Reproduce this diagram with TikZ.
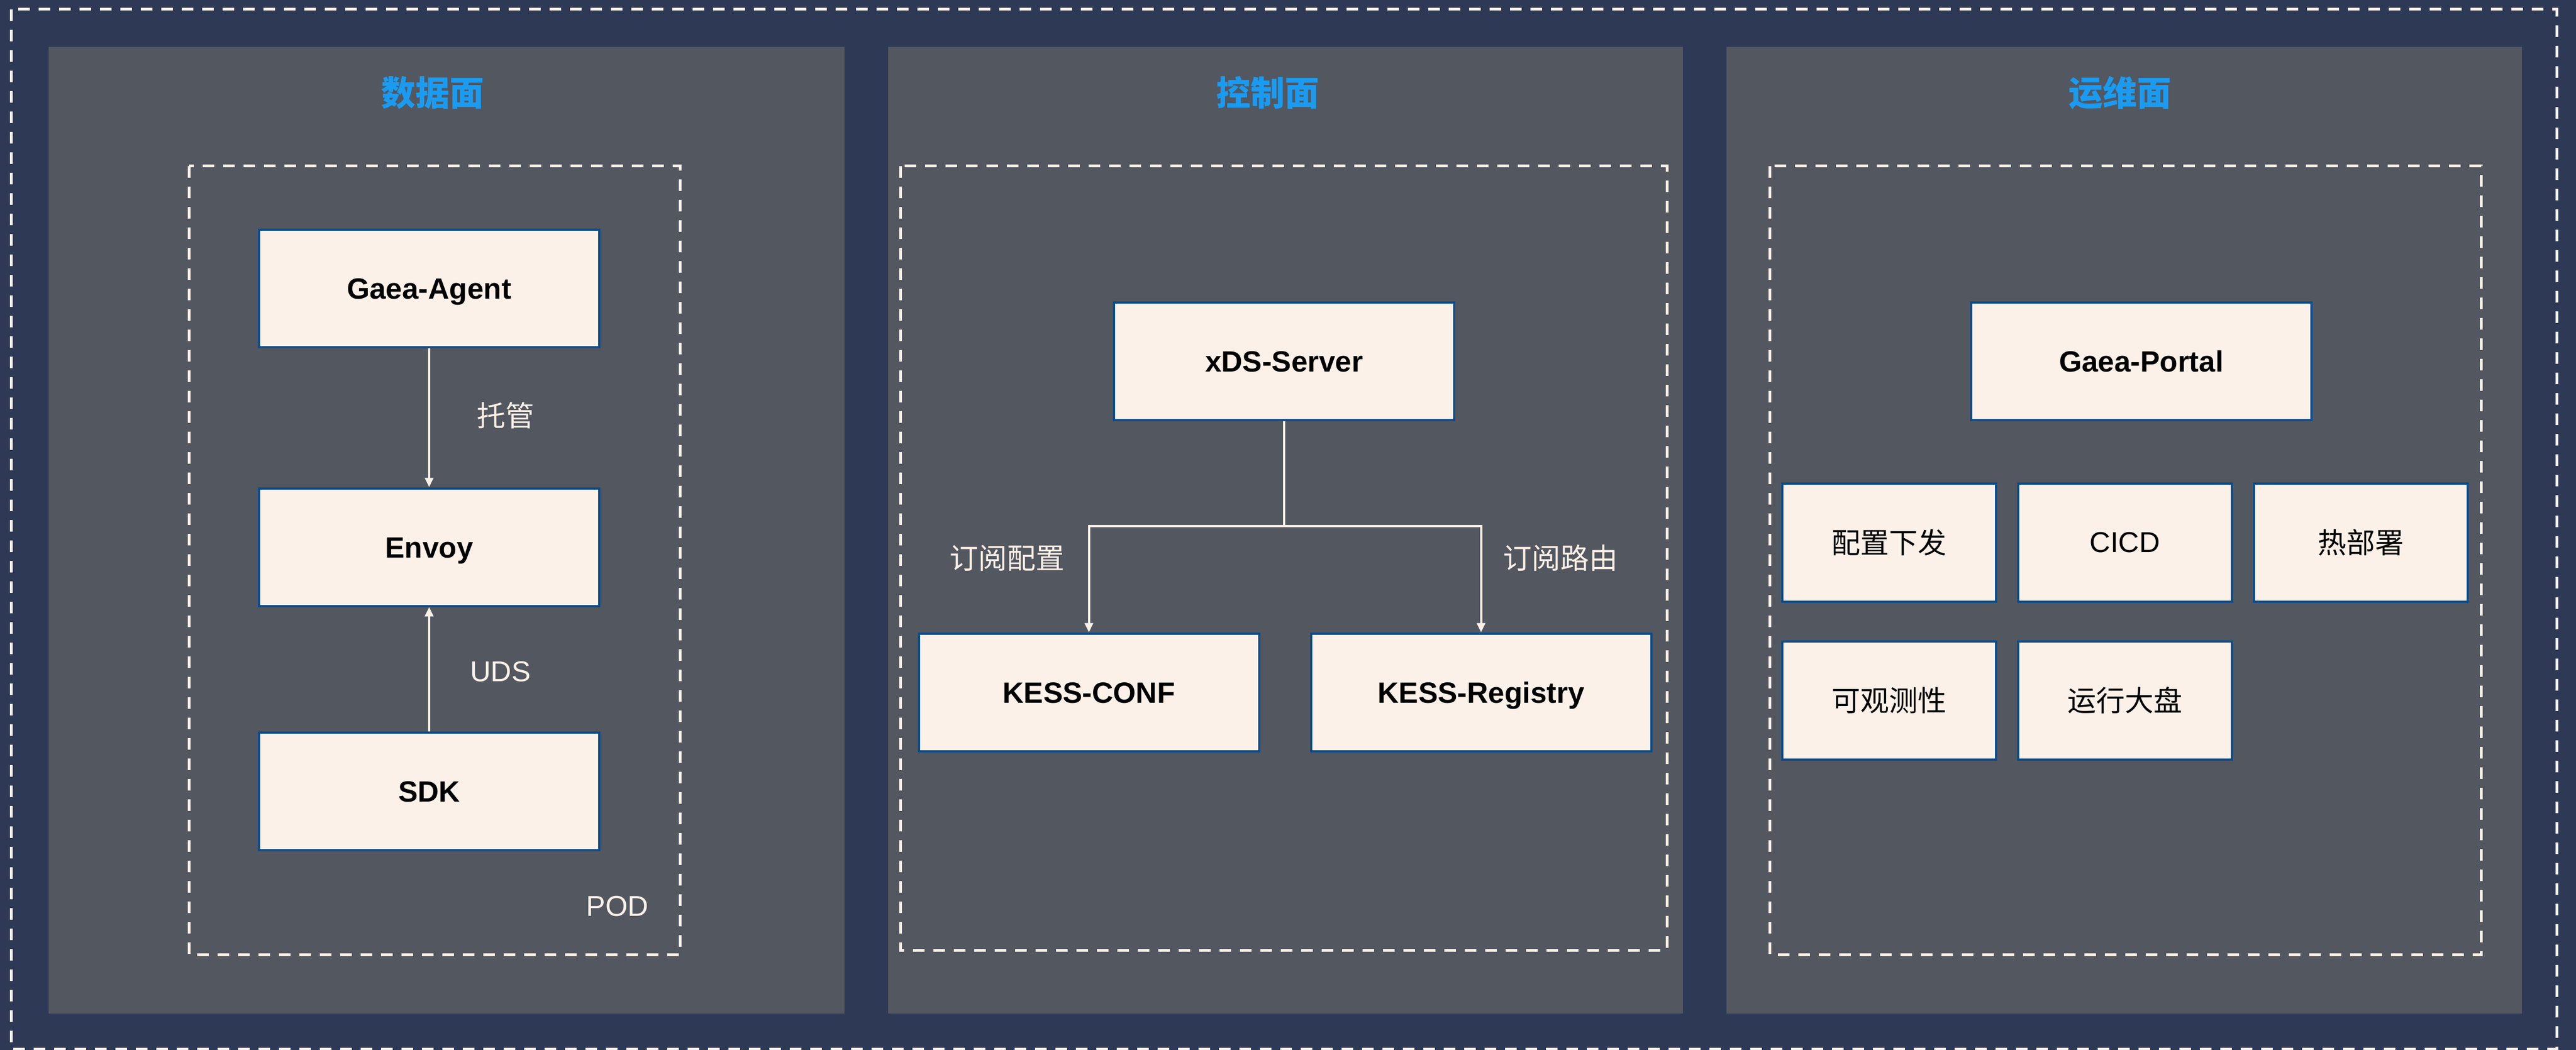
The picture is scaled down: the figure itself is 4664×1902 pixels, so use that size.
\documentclass[tikz,border=0pt]{standalone}
\usepackage{fontspec}
\usepackage{tikz}
\usetikzlibrary{positioning,arrows.meta}
\setmainfont{Liberation Sans}
\newfontfamily\cjk{Noto Sans CJK SC}
\definecolor{bgnavy}{HTML}{2E3A55}
\definecolor{panelgray}{HTML}{53575F}
\definecolor{boxfill}{HTML}{FCF1E8}
\definecolor{boxline}{HTML}{0B4C8C}
\definecolor{titleblue}{HTML}{1A9BF2}
\definecolor{cream}{HTML}{FCF1E8}

\begin{document}
\begin{tikzpicture}[x=1pt, y=-1pt, node distance=36pt]
    % Define styles
    \tikzstyle{panel} = [fill=panelgray, draw=none]
    \tikzstyle{frame} = [draw=cream, line width=5pt, dash pattern=on 21pt off 16pt]
    \tikzstyle{title} = [text=titleblue, font=\cjk\bfseries\fontsize{62}{70}\selectfont]
    \tikzstyle{bigbox} = [rectangle, minimum width=616pt, minimum height=213pt, text height=38pt, text depth=0pt, text centered, draw=boxline, line width=4pt, fill=boxfill, font=\bfseries\fontsize{53}{60}\selectfont]
    \tikzstyle{smallbox} = [rectangle, minimum width=387pt, minimum height=214pt, text centered, draw=boxline, line width=4pt, fill=boxfill, font=\fontsize{52}{60}\selectfont]
    \tikzstyle{note} = [text=cream, font=\fontsize{52}{60}\selectfont]
    \tikzstyle{arrow} = [draw=cream, line width=4pt, -{Triangle[length=17pt, width=15pt]}]

    % Background and panels
    \fill[bgnavy] (0,0) rectangle (4664,1902);
    \useasboundingbox (0,0) rectangle (4664,1902);
    \fill[panel] (88,85) rectangle (1529,1836);
    \fill[panel] (1608,85) rectangle (3047,1836);
    \fill[panel] (3126,85) rectangle (4566,1836);
    \draw[frame] (20,17) rectangle (4629,1900);
    \draw[frame] (342,301) rectangle (1231,1729);
    \draw[frame] (1630,301) rectangle (3018,1721);
    \draw[frame] (3204,301) rectangle (4492,1729);

    % Titles
    \node (datatitle) [title] at (783,168) {数据面};
    \node (ctrltitle) [title] at (2295,168) {控制面};
    \node (opstitle) [title] at (3838,168) {运维面};

    % Data plane
    \node (agent) [bigbox] at (777,522) {Gaea-Agent};
    \node (envoy) [bigbox, below=252pt of agent] {Envoy};
    \node (sdk) [bigbox, below=225pt of envoy] {SDK};
    \node (hosting) [note] at (915,753) {\cjk 托管};
    \node (uds) [note] at (906,1217) {UDS};
    \node (pod) [note] at (1118,1642) {POD};

    % Control plane
    \node (xds) [bigbox] at (2325,654) {xDS-Server};
    \node (kconf) [bigbox] at (1971.5,1254) {KESS-CONF};
    \node (kreg) [bigbox, right=90pt of kconf] {KESS-Registry};
    \coordinate (split) at (2325,953);
    \node (subconf) [note] at (1823,1011) {\cjk 订阅配置};
    \node (subroute) [note] at (2825,1011) {\cjk 订阅路由};

    % Ops plane
    \node (portal) [bigbox] at (3877,654.5) {Gaea-Portal};
    \node (cfgpush) [smallbox] at (3420.5,983) {\cjk 配置下发};
    \node (cicd) [smallbox, right=of cfgpush] {CICD};
    \node (hotdeploy) [smallbox, right=of cicd] {\cjk 热部署};
    \node (observe) [smallbox, below=68pt of cfgpush] {\cjk 可观测性};
    \node (dashboard) [smallbox, right=of observe] {\cjk 运行大盘};

    % Arrows
    \draw [arrow] (agent) -- (envoy);
    \draw [arrow] (sdk) -- (envoy);
    \draw [draw=cream, line width=4pt] (xds) -- (split);
    \draw [arrow] (split) -| (kconf);
    \draw [arrow] (split) -| (kreg);
\end{tikzpicture}
\end{document}
